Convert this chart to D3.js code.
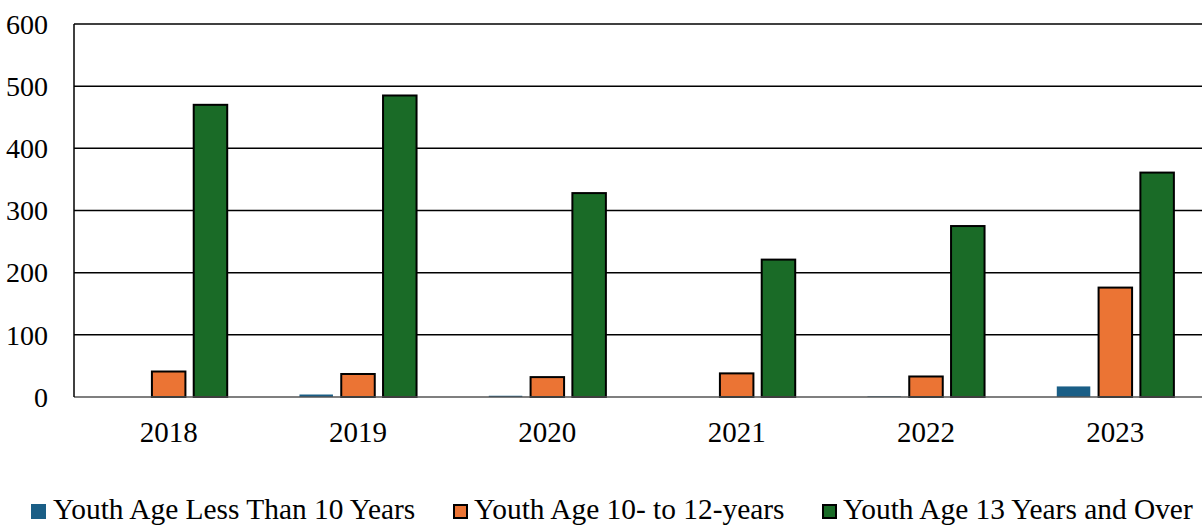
<!DOCTYPE html>
<html>
<head>
<meta charset="utf-8">
<script src="https://cdn.jsdelivr.net/npm/d3@7"></script>
<style>
  html, body { margin: 0; padding: 0; background: #fff; }
  svg { display: block; }
</style>
</head>
<body>
<svg id="chart" width="1202" height="525"></svg>
<script>
// Yearly counts by youth age group
const years = ["2018", "2019", "2020", "2021", "2022", "2023"];
const under10 = [0, 4, 2, 0, 1, 17];
const age10to12 = [41, 37, 32, 38, 33, 176];
const age13plus = [470, 485, 328, 221, 275, 361];
const seriesNames = ["Youth Age Less Than 10 Years", "Youth Age 10- to 12-years", "Youth Age 13 Years and Over"];
const yTicks = [0, 100, 200, 300, 400, 500, 600];

const FONT = "'Liberation Serif', serif";
const colors = ["#1a5e86", "#eb7434", "#1a6b27"];
const strokes = [null, "#000", "#000"];
const seriesValues = [under10, age10to12, age13plus];

const svg = d3.select("#chart");
const margin = { left: 74, top: 24, right: -8, bottom: 128 };
const width = 1202 - margin.left - margin.right;
const height = 525 - margin.top - margin.bottom;

const g = svg.append("g").attr("transform", `translate(${margin.left},${margin.top})`);

const x = d3.scaleBand().domain(years).range([0, width]).paddingInner(0).paddingOuter(0);
const y = d3.scaleLinear().domain([0, 600]).range([height, 0]);

function serif(sel, size) {
  sel.style("font-family", FONT).style("font-size", size + "px").attr("fill", "#000");
}

// Horizontal gridlines
g.append("g")
  .selectAll("line")
  .data(yTicks.filter(d => d > 0))
  .join("line")
  .attr("x1", 0).attr("x2", width)
  .attr("y1", d => y(d)).attr("y2", d => y(d))
  .attr("stroke", "#000").attr("stroke-width", 1.5);

// Y axis labels
const yAxis = d3.axisLeft(y).tickValues(yTicks).tickSize(0).tickPadding(26);
const ya = g.append("g").call(yAxis);
ya.select(".domain").remove();
ya.selectAll("text").attr("dy", "0.33em").call(serif, 28);

// Bars
const barW = 33.5, gap = 8.3;
const groupW = 3 * barW + 2 * gap;
const sub = d3.scaleBand().domain([0, 1, 2]).range([0, groupW]).paddingInner(gap / (barW + gap)).paddingOuter(0);

seriesValues.forEach((vals, si) => {
  g.append("g")
    .selectAll("rect")
    .data(vals)
    .join("rect")
    .attr("x", (d, i) => x(years[i]) + (x.bandwidth() - groupW) / 2 + sub(si))
    .attr("y", d => y(d))
    .attr("width", sub.bandwidth())
    .attr("height", d => y(0) - y(d))
    .attr("fill", colors[si])
    .attr("stroke", strokes[si] || "none")
    .attr("stroke-width", strokes[si] ? 2 : 0);
});

// Baseline and left axis line
g.append("line").attr("x1", 0).attr("x2", width).attr("y1", y(0)).attr("y2", y(0))
  .attr("stroke", "#555").attr("stroke-width", 1.5);
g.append("line").attr("x1", 0).attr("x2", 0).attr("y1", y(600)).attr("y2", y(0))
  .attr("stroke", "#000").attr("stroke-width", 1.5);

// X axis labels
const xAxis = d3.axisBottom(x).tickSize(0).tickPadding(24);
const xa = g.append("g").attr("transform", `translate(0,${height})`).call(xAxis);
xa.select(".domain").remove();
xa.selectAll("text").call(serif, 29);

// Legend
const legendX = [53, 474, 843];
const legend = svg.append("g");
seriesNames.forEach((name, i) => {
  const it = legend.append("g").attr("transform", `translate(${legendX[i]},0)`);
  it.append("rect")
    .attr("x", strokes[i] ? -20 : -22).attr("y", strokes[i] ? 505 : 504)
    .attr("width", strokes[i] ? 13 : 15).attr("height", strokes[i] ? 13 : 15)
    .attr("fill", colors[i])
    .attr("stroke", strokes[i] || "none")
    .attr("stroke-width", strokes[i] ? 2 : 0);
  it.append("text").attr("x", 0).attr("y", 519).call(serif, 29.4).text(name);
});
</script>
</body>
</html>
